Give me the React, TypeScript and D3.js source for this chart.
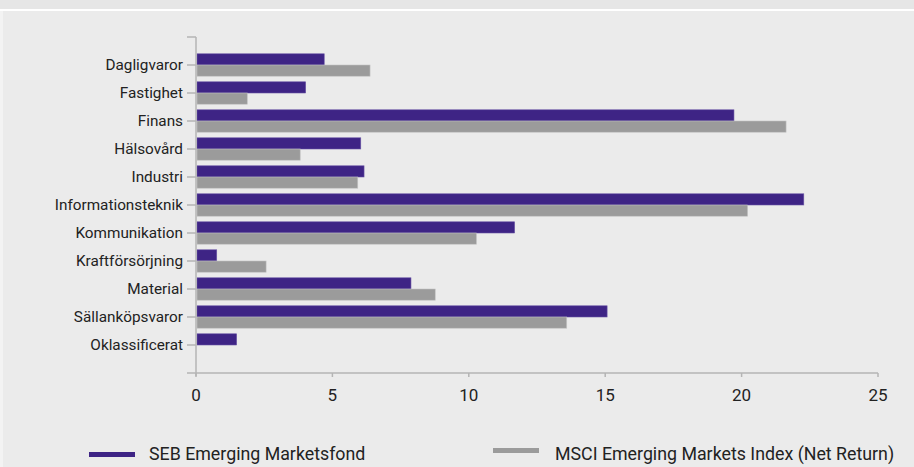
import React from "react";
import * as d3 from "d3";

const categories = [
  "Dagligvaror",
  "Fastighet",
  "Finans",
  "Hälsovård",
  "Industri",
  "Informationsteknik",
  "Kommunikation",
  "Kraftförsörjning",
  "Material",
  "Sällanköpsvaror",
  "Oklassificerat",
];
const fundValues = [4.7, 4.02, 19.72, 6.04, 6.16, 22.28, 11.68, 0.76, 7.88, 15.07, 1.49];
const indexValues = [6.38, 1.88, 21.63, 3.82, 5.93, 20.22, 10.28, 2.57, 8.77, 13.59, 0];
const xTicks = [0, 5, 10, 15, 20, 25];
const seriesNames = ["SEB Emerging Marketsfond", "MSCI Emerging Markets Index (Net Return)"];

const W = 914;
const H = 467;
const PURPLE = "#3e2485";
const GRAY = "#9b9b9b";
const AXIS = "#b4b4b4";
const FONT = "Roboto, 'Noto Sans', sans-serif";

export default function App() {
  const x = d3.scaleLinear().domain([0, 25]).range([196, 878]);
  const y = d3.scaleBand<string>().domain(categories).range([37, 373]).paddingInner(0.2).paddingOuter(0.6);
  const sub = d3.scaleBand<number>().domain([0, 1]).range([0, y.bandwidth()]);
  const series = [fundValues, indexValues];
  const colors = [PURPLE, GRAY];

  return (
    <div style={{ position: "fixed", left: 0, top: 0 }}>
      <svg width={W} height={H} style={{ display: "block" }} fontFamily={FONT}>
        <rect x={0} y={0} width={W} height={H} fill="#ebebeb" />
        <rect x={0} y={0} width={W} height={9} fill="#e6e6e6" />
        <rect x={0} y={9} width={W} height={2} fill="#ffffff" />
        <rect x={0} y={11} width={3} height={H - 11} fill="#f3f3f3" />

        {/* bars */}
        {series.map((vals, si) =>
          vals.map((v, i) =>
            v > 0 ? (
              <rect
                key={`${si}-${i}`}
                x={x(0) + 1}
                y={(y(categories[i]) as number) + (sub(si) as number)}
                width={x(v) - x(0) - 1}
                height={sub.bandwidth()}
                fill={colors[si]}
                stroke={si === 0 ? "#6a55a6" : "#c4c4c4"}
                strokeWidth={0.6}
              />
            ) : null
          )
        )}

        {/* y axis */}
        <line x1={x(0)} x2={x(0)} y1={37} y2={376} stroke={AXIS} strokeWidth={1.5} />
        <line x1={187} x2={x(0)} y1={37} y2={37} stroke={AXIS} strokeWidth={1.5} />
        {categories.map((c) => {
          const cy = (y(c) as number) + y.bandwidth() / 2;
          return (
            <g key={c}>
              <line x1={187} x2={x(0)} y1={cy} y2={cy} stroke={AXIS} strokeWidth={1.5} />
              <text x={183} y={cy} dy="0.35em" textAnchor="end" fontSize={15.3} fill="#222">
                {c}
              </text>
            </g>
          );
        })}

        {/* x axis */}
        <line x1={187} x2={x(25)} y1={373} y2={373} stroke={AXIS} strokeWidth={1.5} />
        {xTicks.map((t) => (
          <g key={t}>
            <line x1={x(t)} x2={x(t)} y1={373} y2={377} stroke={AXIS} strokeWidth={1.5} />
            <text x={x(t)} y={401} textAnchor="middle" fontSize={17} fill="#222">
              {t}
            </text>
          </g>
        ))}

        {/* legend */}
        <rect x={89} y={452} width={46} height={5} fill={PURPLE} />
        <text x={149} y={460} fontSize={17.8} fill="#222">
          {seriesNames[0]}
        </text>
        <rect x={493} y={448} width={46} height={5} fill={GRAY} />
        <text x={555} y={460} fontSize={17.8} fill="#222">
          {seriesNames[1]}
        </text>
      </svg>
    </div>
  );
}
